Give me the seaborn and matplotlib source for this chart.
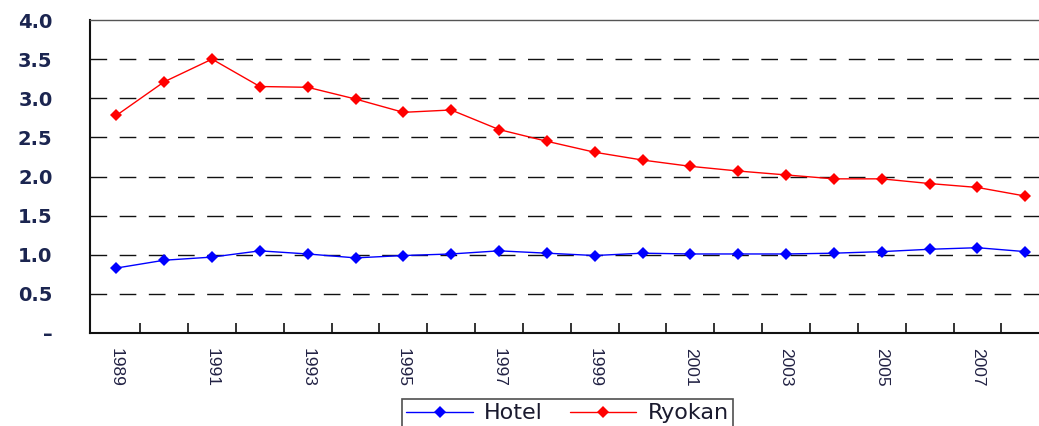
import matplotlib
matplotlib.use("Agg")
import matplotlib.pyplot as plt
from matplotlib import font_manager
import pandas as pd
import seaborn as sns

years = list(range(1989, 2009))
hotel = [0.83, 0.93, 0.97, 1.05, 1.01, 0.96, 0.99, 1.01, 1.05, 1.02,
         0.99, 1.02, 1.01, 1.01, 1.01, 1.02, 1.04, 1.07, 1.09, 1.04]
ryokan = [2.78, 3.21, 3.50, 3.15, 3.14, 2.99, 2.82, 2.85, 2.60, 2.45,
          2.31, 2.21, 2.13, 2.07, 2.02, 1.97, 1.97, 1.91, 1.86, 1.75]
series_names = ["Hotel", "Ryokan"]
series_colors = ["#0000ff", "#ff0000"]
y_ticks = [0, 0.5, 1.0, 1.5, 2.0, 2.5, 3.0, 3.5, 4.0]
y_labels = ["–", "0.5", "1.0", "1.5", "2.0", "2.5", "3.0", "3.5", "4.0"]

df = pd.DataFrame({
    "pos": list(range(len(years))) * 2,
    "value": hotel + ryokan,
    "type": [series_names[0]] * len(years) + [series_names[1]] * len(years),
})

sns.set_style("white")
installed = {f.name for f in font_manager.fontManager.ttflist}
narrow = "Liberation Sans Narrow" if "Liberation Sans Narrow" in installed else "Liberation Sans"

W, H = 1039, 426
fig = plt.figure(figsize=(W / 100, H / 100), dpi=100)
left_px, top_px, bottom_px = 90, 20, 333
cat_px = 47.84
x_lo, x_hi = -0.55, 19.5
ax = fig.add_axes([left_px / W, 1 - bottom_px / H,
                   (x_hi - x_lo) * cat_px / W, (bottom_px - top_px) / H])

sns.lineplot(data=df, x="pos", y="value", hue="type", palette=series_colors,
             marker="D", markersize=6.5, markeredgewidth=0, linewidth=1.0,
             ax=ax, legend=False, zorder=3)

ax.set_xlim(x_lo, x_hi)
ax.set_ylim(0, 4.0)

# horizontal dashed grid
for yv in y_ticks[1:-1]:
    ax.axhline(yv, color="#111111", linewidth=1.0, dashes=(12, 9), zorder=1)

ax.set_yticks(y_ticks)
ax.set_yticklabels(y_labels, fontsize=14, fontweight="bold",
                   family="DejaVu Sans", color="#1b2550")
ax.tick_params(axis="y", length=0, pad=27)

# category labels every other year, marks between categories
ax.set_xticks(list(range(0, len(years), 2)))
ax.set_xticklabels([str(y) for y in years[::2]], rotation=-90,
                   fontsize=12.5, family=narrow, color="#222244")
ax.set_xticks([i + 0.5 for i in range(len(years))], minor=True)
ax.tick_params(axis="x", which="major", length=0, pad=11)
ax.tick_params(axis="x", which="minor", direction="in", length=7,
               width=1.2, color="#111111", bottom=True)
ax.set_xlabel("")
ax.set_ylabel("")

for side in ["left", "bottom"]:
    ax.spines[side].set_color("#111111")
    ax.spines[side].set_linewidth(1.5)
ax.spines["top"].set_color("#555555")
ax.spines["top"].set_linewidth(1.0)
ax.spines["right"].set_visible(False)

handles = [plt.Line2D([], [], color=c, marker="D", markersize=6,
                      markeredgewidth=0, linewidth=1.0) for c in series_colors]
leg = fig.legend(handles, series_names, loc="upper left",
                 bbox_to_anchor=(402 / W, 1 - 399 / H), ncol=2,
                 frameon=True, fancybox=False, fontsize=16,
                 handlelength=3.0, handletextpad=0.5, columnspacing=1.2,
                 borderpad=0.2, borderaxespad=0)
leg.get_frame().set_edgecolor("#222222")
leg.get_frame().set_linewidth(1.2)
for t in leg.get_texts():
    t.set_color("#1a1a2e")

fig.savefig("out.png", dpi=100)
